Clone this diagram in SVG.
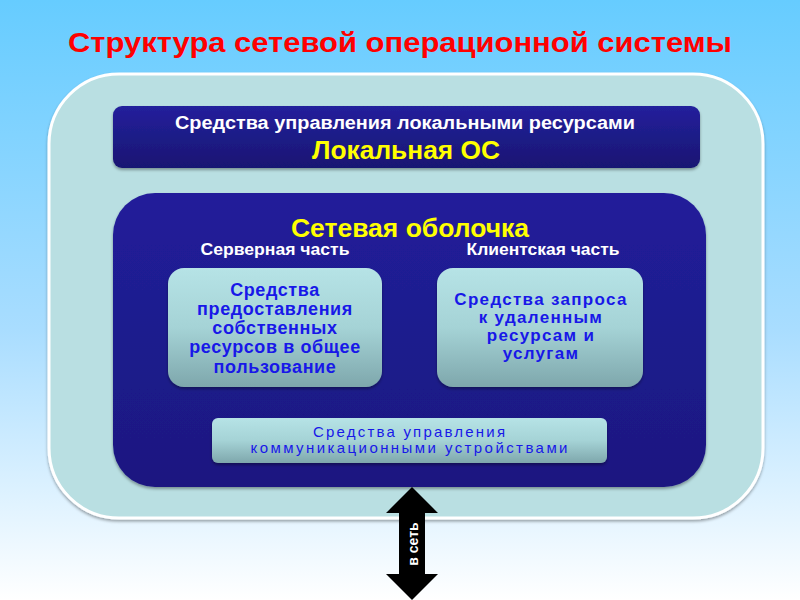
<svg xmlns="http://www.w3.org/2000/svg" width="800" height="600" viewBox="0 0 800 600">
<defs>
<linearGradient id="bg" x1="0" y1="0" x2="0" y2="1">
<stop offset="0" stop-color="#66CCFF"/>
<stop offset="0.55" stop-color="#A9DDFF"/>
<stop offset="1" stop-color="#FFFFFF"/>
</linearGradient>
<linearGradient id="navy" x1="0" y1="0" x2="0" y2="1">
<stop offset="0" stop-color="#23209C"/>
<stop offset="1" stop-color="#191672"/>
</linearGradient>
<linearGradient id="shell" x1="0" y1="0" x2="0" y2="1">
<stop offset="0" stop-color="#211E9A"/>
<stop offset="1" stop-color="#1B1880"/>
</linearGradient>
<linearGradient id="light" x1="0" y1="0" x2="0" y2="1">
<stop offset="0" stop-color="#B6E3E6"/>
<stop offset="0.5" stop-color="#A5D3D6"/>
<stop offset="1" stop-color="#7EA7AC"/>
</linearGradient>
<filter id="sh" x="-5%" y="-5%" width="110%" height="120%">
<feDropShadow dx="0" dy="2" stdDeviation="1.5" flood-color="#000" flood-opacity="0.35"/>
</filter>
<style>
.t{font-family:"Liberation Sans",Arial,sans-serif;font-weight:bold;text-anchor:middle}
.n{font-weight:normal}
.w{fill:#FFFFFF}
.y{fill:#FFFF00}
.b{fill:#1818E8}
</style>
</defs>
<rect x="0" y="0" width="800" height="600" fill="url(#bg)"/>
<text class="t" x="400" y="52" font-size="28" fill="#FF0000" textLength="664" lengthAdjust="spacingAndGlyphs">Структура сетевой операционной системы</text>
<g id="outer">
<rect x="49" y="74" width="714" height="444" rx="70" ry="70" fill="#B9DFE2" stroke="#FFFFFF" stroke-width="3" filter="url(#sh)"/>
</g>
<g id="local-os">
<rect x="113" y="106" width="587" height="62" rx="9" fill="url(#navy)" filter="url(#sh)"/>
<text class="t w" x="405" y="129" font-size="18" textLength="460" lengthAdjust="spacingAndGlyphs">Средства управления локальными ресурсами</text>
<text class="t y" x="406" y="159" font-size="25" textLength="188" lengthAdjust="spacingAndGlyphs">Локальная ОС</text>
</g>
<g id="network-shell">
<rect x="113" y="193" width="593" height="294" rx="42" fill="url(#shell)" filter="url(#sh)"/>
<text class="t y" x="410" y="237" font-size="25" textLength="238" lengthAdjust="spacingAndGlyphs">Сетевая оболочка</text>
<text class="t w" x="275" y="255" font-size="16" textLength="149" lengthAdjust="spacingAndGlyphs">Серверная часть</text>
<text class="t w" x="543" y="255" font-size="16" textLength="153" lengthAdjust="spacingAndGlyphs">Клиентская часть</text>
</g>
<g id="server">
<rect x="168" y="268" width="214" height="119" rx="16" fill="url(#light)" filter="url(#sh)"/>
<text class="t b" font-size="18" letter-spacing="0.6"><tspan x="275" y="296">Средства</tspan><tspan x="275" y="315">предоставления</tspan><tspan x="275" y="334">собственных</tspan><tspan x="275" y="353">ресурсов в общее</tspan><tspan x="275" y="373">пользование</tspan></text>
</g>
<g id="client">
<rect x="437" y="268" width="206" height="119" rx="16" fill="url(#light)" filter="url(#sh)"/>
<text class="t b" font-size="17" letter-spacing="1.3"><tspan x="541" y="305">Средства запроса</tspan><tspan x="541" y="323">к удаленным</tspan><tspan x="541" y="341">ресурсам и</tspan><tspan x="541" y="359">услугам</tspan></text>
</g>
<g id="comm">
<rect x="212" y="418" width="395" height="45" rx="6" fill="url(#light)" filter="url(#sh)"/>
<text class="t b n" font-size="15"><tspan x="409" y="437" textLength="192" lengthAdjust="spacing">Средства управления</tspan><tspan x="409" y="453" textLength="317" lengthAdjust="spacing">коммуникационными устройствами</tspan></text>
</g>
<g id="connectors">
<polygon points="412,487 438,513 425,513 425,574 438,574 412,600 386,574 399,574 399,513 386,513" fill="#000000"/>
<text class="t w" font-size="14" transform="translate(418,544) rotate(-90)">в сеть</text>
</g>
</svg>
